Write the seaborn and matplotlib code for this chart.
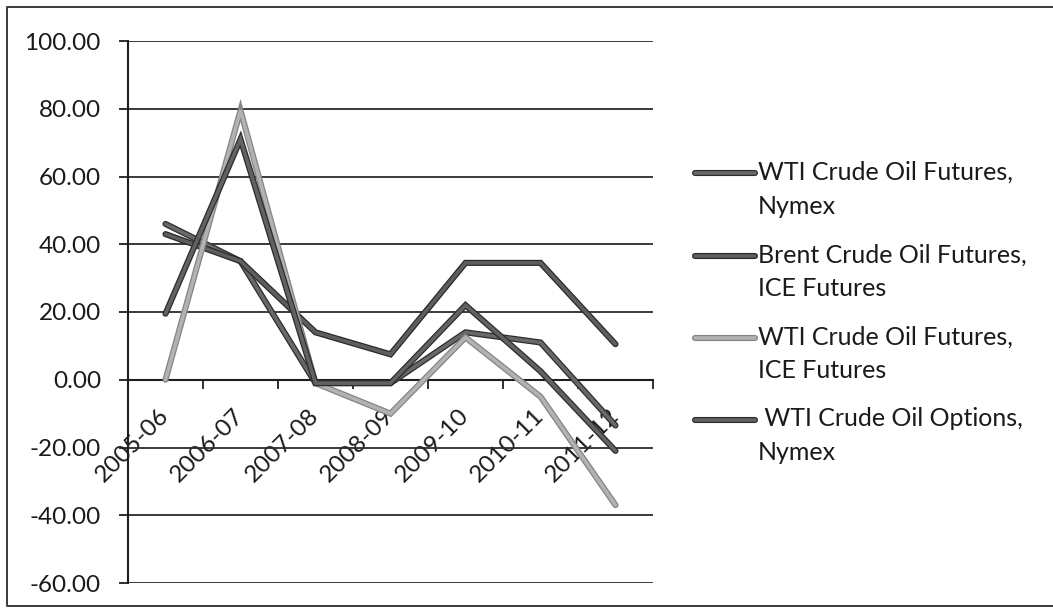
import numpy as np
import pandas as pd
import matplotlib
matplotlib.use("Agg")
import matplotlib.pyplot as plt
import matplotlib.patheffects as pe
from matplotlib.lines import Line2D
from matplotlib.legend_handler import HandlerLine2D
from matplotlib.transforms import ScaledTranslation
import seaborn as sns

# Year-on-year change in traded volume (%), by fiscal year
periods = ["2005-06", "2006-07", "2007-08", "2008-09", "2009-10", "2010-11", "2011-12"]
wti_futures_nymex = [46.0, 35.0, -1.0, -1.0, 14.0, 11.0, -13.5]
brent_futures_ice = [43.0, 35.0, 14.0, 7.5, 34.5, 34.5, 10.5]
wti_futures_ice = [0.0, 79.5, -1.0, -10.0, 12.5, -5.0, -37.0]
wti_options_nymex = [19.5, 71.0, -1.0, -1.0, 22.0, 2.5, -21.0]

series_names = [
    "WTI Crude Oil Futures,\nNymex",
    "Brent Crude Oil Futures,\nICE Futures",
    "WTI Crude Oil Futures,\nICE Futures",
    " WTI Crude Oil Options,\nNymex",
]
series_values = [wti_futures_nymex, brent_futures_ice, wti_futures_ice, wti_options_nymex]
line_colors = ["#686868", "#5e5e5e", "#b2b2b2", "#626262"]
edge_colors = ["#2e2e2e", "#2a2a2a", "#858585", "#2c2c2c"]

y_ticks = [-60, -40, -20, 0, 20, 40, 60, 80, 100]

frames = []
for name, vals in zip(series_names, series_values):
    frames.append(pd.DataFrame({"pos": np.arange(len(periods)), "value": vals, "series": name}))
df = pd.concat(frames, ignore_index=True)

sns.set_theme(style="white")
plt.rcParams["font.family"] = ["Lato", "DejaVu Sans"]

W, H = 1053, 613
fig = plt.figure(figsize=(W / 100, H / 100), dpi=100, facecolor="white")
ax = fig.add_axes([128 / W, 1 - 583 / H, 525 / W, 542 / H])
ax.set_facecolor("white")

sns.lineplot(data=df, x="pos", y="value", hue="series", hue_order=series_names,
             palette=dict(zip(series_names, line_colors)), linewidth=2.6,
             legend=False, ax=ax, zorder=3)

for line, ec in zip(ax.lines, edge_colors):
    line.set_solid_capstyle("round")
    line.set_solid_joinstyle("miter")
    line.set_path_effects([pe.Stroke(linewidth=4.4, foreground=ec), pe.Normal()])
    line.set_clip_on(False)

# axes, grid and ticks
ax.set_xlim(-0.5, len(periods) - 0.5)
ax.set_ylim(-60, 100)
ax.set_yticks(y_ticks)
ax.set_yticklabels([f"{v:.2f}" for v in y_ticks])
ax.yaxis.grid(True, color="#2b2b2b", linewidth=1.3)
ax.xaxis.grid(False)
ax.set_axisbelow(True)

for side in ["top", "right"]:
    ax.spines[side].set_visible(False)
ax.spines["left"].set_color("#1e1e1e")
ax.spines["left"].set_linewidth(1.5)
ax.spines["bottom"].set_position(("data", 0))
ax.spines["bottom"].set_color("#1e1e1e")
ax.spines["bottom"].set_linewidth(1.5)

ax.set_xticks(np.arange(len(periods)))
ax.set_xticklabels(periods, rotation=45, ha="right")
ax.set_xticks(np.arange(len(periods) + 1) - 0.5, minor=True)
ax.tick_params(axis="x", which="major", length=0, pad=18, labelsize=17.5, labelcolor="#1a1a1a")
ax.tick_params(axis="x", which="minor", direction="out", length=6.5, width=1.3,
               color="#1e1e1e", bottom=True)
ax.tick_params(axis="y", direction="out", length=6.5, width=1.3, color="#1e1e1e",
               pad=13, labelsize=17.5, labelcolor="#1a1a1a", left=True)
for lab in ax.get_xticklabels():
    lab.set_transform(lab.get_transform() + ScaledTranslation(7 / 100, 0, fig.dpi_scale_trans))
ax.set_xlabel("")
ax.set_ylabel("")


class FirstLineHandler(HandlerLine2D):
    """Places the legend key beside the first line of a two-line label."""

    def __init__(self, shift, **kw):
        super().__init__(**kw)
        self.shift = shift

    def create_artists(self, legend, orig_handle, xdescent, ydescent, width, height,
                       fontsize, trans):
        artists = super().create_artists(legend, orig_handle, xdescent, ydescent,
                                         width, height, fontsize, trans)
        for a in artists:
            a.set_ydata(np.asarray(a.get_ydata(), float) + self.shift)
        return artists


handles = list(ax.lines[:len(series_names)])
leg = fig.legend(handles, series_names, loc="upper left",
                 bbox_to_anchor=(695 / W, 1 - 161 / H), frameon=False,
                 fontsize=18, borderpad=0, borderaxespad=0,
                 handlelength=2.4, handletextpad=0.1, labelspacing=1.02,
                 handler_map={Line2D: FirstLineHandler(shift=12)})
for t in leg.get_texts():
    t.set_color("#1a1a1a")
    t.set_linespacing(1.56)

# outer chart frame
x0, yt, yb = 7 / W, 1 - 7 / H, 1 - 606 / H
fig.add_artist(Line2D([1.02, x0, x0, 1.02], [yt, yt, yb, yb], transform=fig.transFigure,
                      color="#3a3a3a", linewidth=1.4, clip_on=False))

fig.savefig("out.png", dpi=100, facecolor="white")
